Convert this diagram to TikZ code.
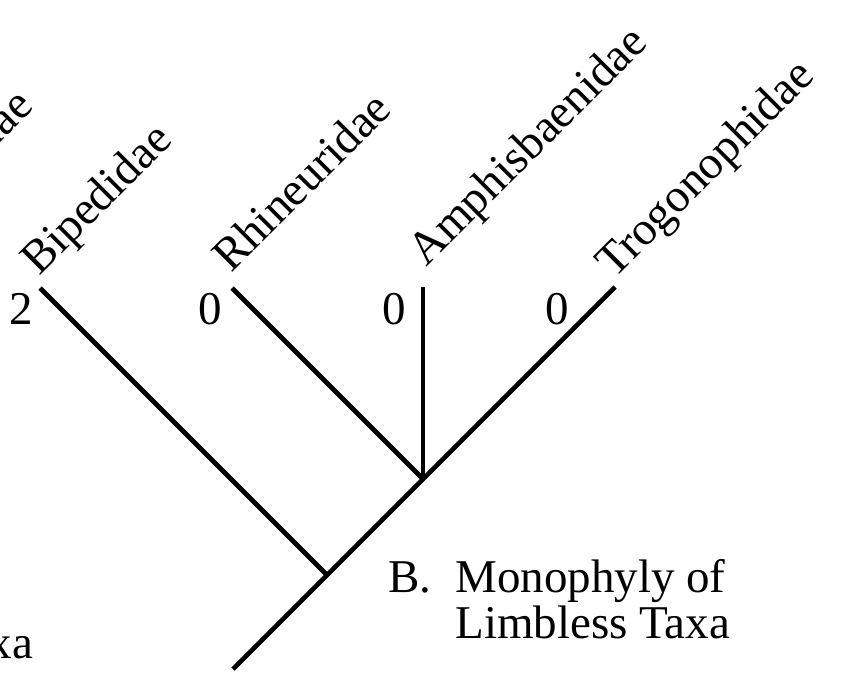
\documentclass[tikz,border=0pt]{standalone}
\usepackage{fontspec}
\setmainfont{Liberation Serif}
\begin{document}
\begin{tikzpicture}[x=1pt,y=-1pt,
  branch/.style={line width=4.6pt},
  taxon/.style={anchor=base west,rotate=45,inner sep=0pt,font=\fontsize{47}{47}\selectfont},
  state/.style={anchor=base,inner sep=0pt,font=\fontsize{47}{47}\selectfont},
  caption/.style={inner sep=0pt,font=\fontsize{47}{46}\selectfont}]
\useasboundingbox (0,0) rectangle (843,677);
\clip (0,0) rectangle (843,677);
% tree coordinates
\coordinate (root) at (233,669);
\coordinate (n1) at (327,575);
\coordinate (n2) at (423,479);
\coordinate (tB) at (40,288);
\coordinate (tR) at (232,288);
\coordinate (tA) at (423,287);
\coordinate (tT) at (615,287);
% branches
\draw[branch] (root) -- (n1) -- (n2) -- (tT);
\draw[branch] (n1) -- (tB);
\draw[branch] (n2) -- (tR);
\draw[branch] (n2) -- (tA);
% taxon labels
\node[taxon] (lB) at (39,277) {Bipedidae};
\node[taxon] (lR) at (231,274) {Rhineuridae};
\node[taxon] (lA) at (426,268) {Amphisbaenidae};
\node[taxon] (lT) at (614,280) {Trogonophidae};
% cut-off label from neighbouring panel
\node[anchor=base east,rotate=45,inner sep=0pt,font=\fontsize{47}{47}\selectfont] (lX) at (35,108) {Trogonophidae};
% character states
\node[state] (s1) at (21,324) {2};
\node[state] (s2) at (210,324) {0};
\node[state] (s3) at (394,324) {0};
\node[state] (s4) at (557,324) {0};
% captions
\node[caption,anchor=base west] (capB) at (388,612) {\begin{tabular}{@{}l@{\hspace{24pt}}l@{}}B. & Monophyly of\\[-1pt] & Limbless Taxa\end{tabular}};
\node[caption,anchor=base east] (capA) at (33,658) {Limbless Taxa};
\end{tikzpicture}
\end{document}
